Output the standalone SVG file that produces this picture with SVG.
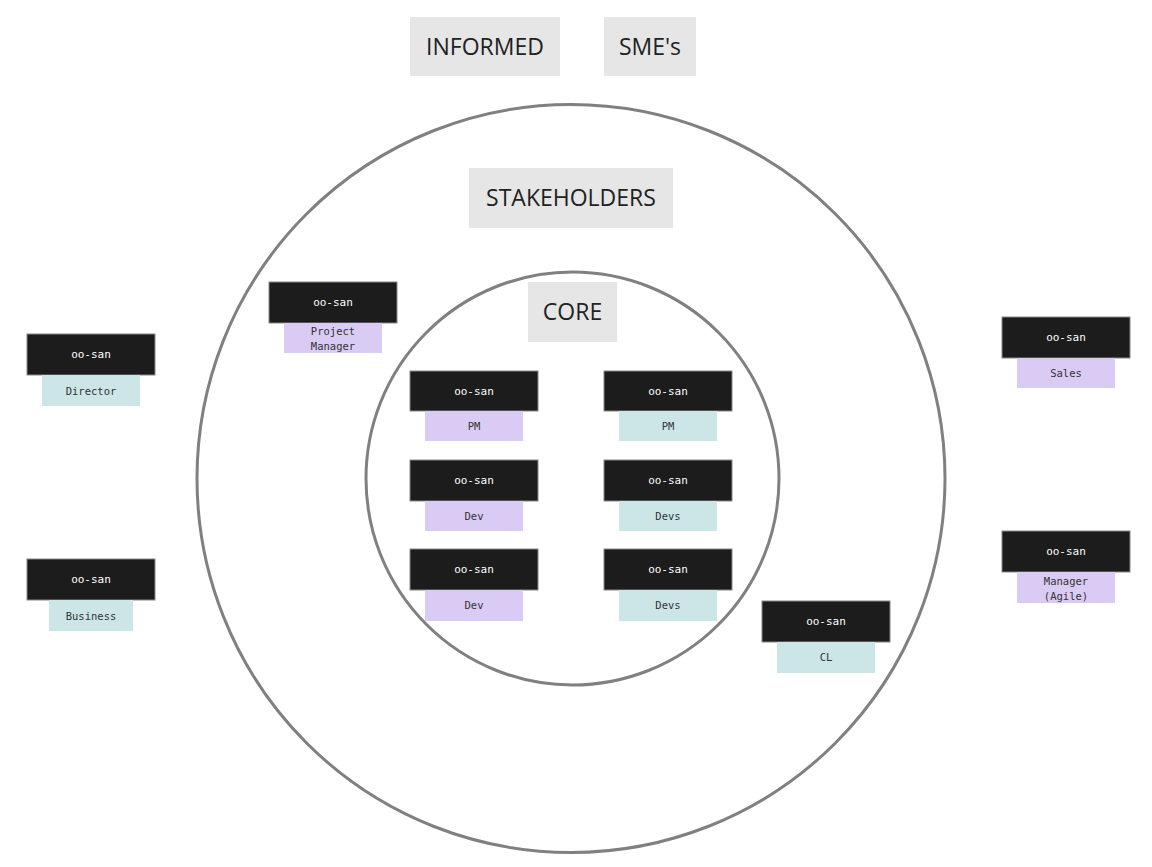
<svg xmlns="http://www.w3.org/2000/svg" width="1152" height="867" viewBox="0 0 1152 867">
<style>
.ring{fill:none;stroke:#808080;stroke-width:3}
.title{fill:#e6e6e6}
.tt{font-family:"Open Sans","Noto Sans",sans-serif;font-size:23px;fill:#222;text-anchor:middle}
.blk{fill:#1c1c1c;stroke:#888;stroke-width:1}
.bt{font-family:"DejaVu Sans Mono","Liberation Mono",monospace;font-size:11px;fill:#fff;text-anchor:middle}
.pur{fill:#d9cbf4}
.cy{fill:#cce6e8}
.lt{font-family:"DejaVu Sans Mono","Liberation Mono",monospace;font-size:10.5px;fill:#333;text-anchor:middle}
</style>
<rect width="1152" height="867" fill="#fff"/>
<g id="rings">
<circle class="ring" cx="571" cy="478.5" r="374"/>
<circle class="ring" cx="572.5" cy="478.5" r="206.5"/>
</g>
<g id="informed"><rect class="title" x="410" y="17" width="150" height="59"/><text class="tt" x="485" y="55">INFORMED</text></g>
<g id="smes"><rect class="title" x="604" y="17" width="92" height="59"/><text class="tt" x="650" y="55">SME's</text></g>
<g id="stakeholders"><rect class="title" x="469" y="168" width="204" height="60"/><text class="tt" x="571" y="206">STAKEHOLDERS</text></g>
<g id="core"><rect class="title" x="528" y="282" width="89" height="60"/><text class="tt" x="572.5" y="320">CORE</text></g>
<g id="connectors"></g>
<g id="project-manager"><rect class="blk" x="269" y="282" width="128" height="41"/><text class="bt" x="333" y="306">oo-san</text><rect class="pur" x="284" y="323" width="98" height="30"/><text class="lt" x="333" y="335">Project</text><text class="lt" x="333" y="350">Manager</text></g>
<g id="director"><rect class="blk" x="27" y="334" width="128" height="41"/><text class="bt" x="91" y="358">oo-san</text><rect class="cy" x="42" y="375" width="98" height="31"/><text class="lt" x="91" y="395">Director</text></g>
<g id="business"><rect class="blk" x="27" y="559" width="128" height="41"/><text class="bt" x="91" y="583">oo-san</text><rect class="cy" x="49" y="600" width="84" height="31"/><text class="lt" x="91" y="620">Business</text></g>
<g id="core-pm-1"><rect class="blk" x="410" y="371" width="128" height="40"/><text class="bt" x="474" y="395">oo-san</text><rect class="pur" x="425" y="411" width="98" height="30"/><text class="lt" x="474" y="430">PM</text></g>
<g id="core-pm-2"><rect class="blk" x="604" y="371" width="128" height="40"/><text class="bt" x="668" y="395">oo-san</text><rect class="cy" x="619" y="411" width="98" height="30"/><text class="lt" x="668" y="430">PM</text></g>
<g id="core-dev-1"><rect class="blk" x="410" y="460" width="128" height="41"/><text class="bt" x="474" y="484">oo-san</text><rect class="pur" x="425" y="501" width="98" height="30"/><text class="lt" x="474" y="520">Dev</text></g>
<g id="core-devs-1"><rect class="blk" x="604" y="460" width="128" height="41"/><text class="bt" x="668" y="484">oo-san</text><rect class="cy" x="619" y="501" width="98" height="30"/><text class="lt" x="668" y="520">Devs</text></g>
<g id="core-dev-2"><rect class="blk" x="410" y="549" width="128" height="41"/><text class="bt" x="474" y="573">oo-san</text><rect class="pur" x="425" y="590" width="98" height="31"/><text class="lt" x="474" y="609">Dev</text></g>
<g id="core-devs-2"><rect class="blk" x="604" y="549" width="128" height="41"/><text class="bt" x="668" y="573">oo-san</text><rect class="cy" x="619" y="590" width="98" height="31"/><text class="lt" x="668" y="609">Devs</text></g>
<g id="cl"><rect class="blk" x="762" y="601" width="128" height="41"/><text class="bt" x="826" y="625">oo-san</text><rect class="cy" x="777" y="642" width="98" height="31"/><text class="lt" x="826" y="661">CL</text></g>
<g id="sales"><rect class="blk" x="1002" y="317" width="128" height="41"/><text class="bt" x="1066" y="341">oo-san</text><rect class="pur" x="1017" y="358" width="98" height="30"/><text class="lt" x="1066" y="377">Sales</text></g>
<g id="manager-agile"><rect class="blk" x="1002" y="531" width="128" height="41"/><text class="bt" x="1066" y="555">oo-san</text><rect class="pur" x="1017" y="572" width="98" height="31"/><text class="lt" x="1066" y="585">Manager</text><text class="lt" x="1066" y="600">(Agile)</text></g>
</svg>
